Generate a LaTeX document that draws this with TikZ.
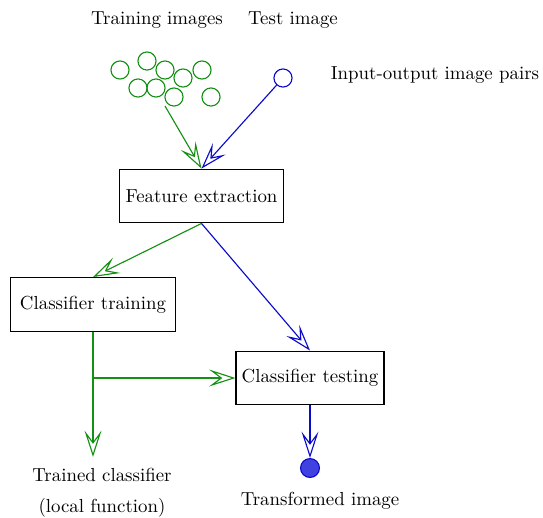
\documentclass[tikz,border=0pt]{standalone}
\usepackage{tikz}
\usetikzlibrary{positioning,arrows.meta}
\definecolor{trainc}{RGB}{20,145,20}
\definecolor{testc}{RGB}{10,10,205}
\definecolor{outfill}{RGB}{65,65,225}

\begin{document}
\begin{tikzpicture}[
  x=0.53pt, y=-0.53pt,
  every node/.style={font=\normalsize},
  stagebox/.style={rectangle, draw=black, line width=0.6pt, minimum height=28.5pt,
                   inner xsep=3pt, align=center},
  img/.style={circle, draw, line width=0.6pt, minimum size=9.6pt, inner sep=0pt},
  flow/.style={line width=0.6pt, -{Stealth[open,length=14pt,width=9pt,inset=6pt]}},
  label/.style={inner sep=1pt}
]
  \useasboundingbox (0,0) rectangle (543,517);

  % inputs
  \node[label] (trainlbl) at (157,20) {Training images};
  \node[label] (testlbl) at (293,20) {Test image};
  \node[label] (pairlbl) at (435,75) {Input-output image pairs};

  \node[img, draw=trainc] (t1) at (120,70) {};
  \node[img, draw=trainc] (t2) at (147,61) {};
  \node[img, draw=trainc] (t3) at (165,70) {};
  \node[img, draw=trainc] (t4) at (183,78) {};
  \node[img, draw=trainc] (t5) at (202,70) {};
  \node[img, draw=trainc] (t6) at (138,88) {};
  \node[img, draw=trainc] (t7) at (156,88) {};
  \node[img, draw=trainc] (t8) at (174,97) {};
  \node[img, draw=trainc] (t9) at (211,97) {};
  \node[img, draw=testc] (timg) at (283,78) {};

  % stages
  \node[stagebox] (feat) at (201.5,196) {Feature extraction};
  \node[stagebox, minimum width=87pt] (ctrain) at (93,304.5) {Classifier training};
  \node[stagebox] (ctest) at (310,378) {Classifier testing};

  % outputs
  \node[img, draw=testc, fill=outfill, minimum size=10pt] (outimg) at (310,468) {};
  \node[label] (outlbl) at (320,501) {Transformed image};
  \node[label] (clslbl) at (102,475) {Trained classifier};
  \node[label] (fnlbl) at (102,508) {(local function)};

  \coordinate (tend) at (93,457);
  \coordinate (split) at (93,378);
  \coordinate (tstart) at (165,106);

  % training path
  \draw[flow, trainc] (tstart) -- (feat.north);
  \draw[flow, trainc] (feat.south) -- (ctrain.north);
  \draw[flow, trainc] (ctrain.south) -- (tend);
  \draw[flow, trainc] (split) -- (ctest.west);

  % testing path
  \draw[flow, testc] (timg) -- (feat.north);
  \draw[flow, testc] (feat.south) -- (ctest.north);
  \draw[flow, testc] (ctest.south) -- (outimg.north);
\end{tikzpicture}
\end{document}
